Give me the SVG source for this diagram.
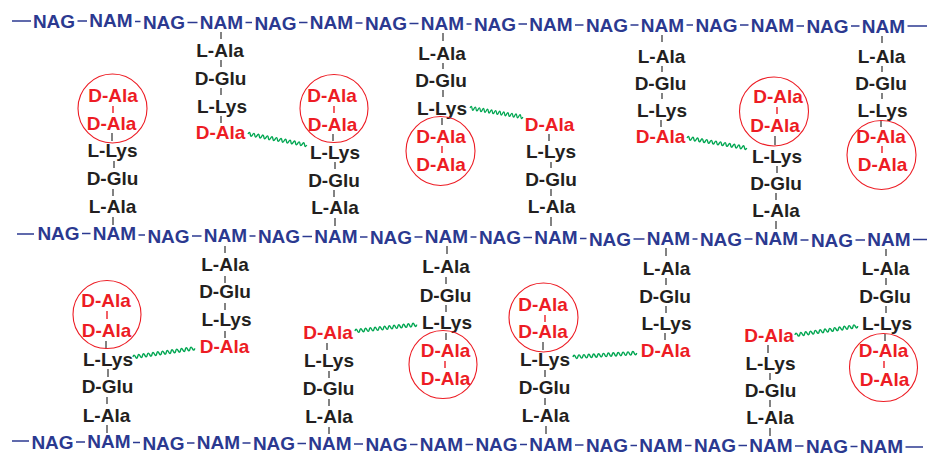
<svg xmlns="http://www.w3.org/2000/svg" xmlns:xlink="http://www.w3.org/1999/xlink" width="927" height="458" viewBox="0 0 927 458">
<style>
text{font-family:"Liberation Sans",Arial,sans-serif;font-weight:bold;font-size:19px;text-anchor:middle}
.b{fill:#2b3990}
.k{fill:#231f20}
.r{fill:#ed1c24}
.bb{stroke:#2b3990;stroke-width:1.5;fill:none}
.tk{stroke:#4d4d4d;stroke-width:1.4;fill:none}
.tr{stroke:#ed1c24;stroke-width:1.4;fill:none}
.c{fill:none;stroke:#ed1c24;stroke-width:1.1}
.w{fill:none;stroke:#00a651;stroke-width:1.4}
</style>
<defs>
<path id="wave" d="M0,0 q1.15,-3.4 2.3,0 t2.3,0 t2.3,0 t2.3,0 t2.3,0 t2.3,0 t2.3,0 t2.3,0 t2.3,0 t2.3,0 t2.3,0 t2.3,0 t2.3,0 t2.3,0 t2.3,0 t2.3,0 t2.3,0 t2.3,0 t2.3,0 t2.3,0 t2.3,0 t2.3,0 t2.3,0 t2.3,0 t2.3,0 t2.3,0"/>
</defs>
<rect width="927" height="458" fill="#fff"/>
<g id="connectors">
<g id="backbone-top" class="bb">
<line x1="12" y1="21" x2="31" y2="21"/><line x1="77.5" y1="21" x2="87" y2="21"/><line x1="135" y1="21.5" x2="140.5" y2="21.5"/><line x1="187.5" y1="22.5" x2="197.5" y2="22.5"/><line x1="245.5" y1="22.5" x2="252" y2="22.5"/><line x1="299" y1="22.5" x2="307.5" y2="22.5"/><line x1="355.5" y1="23" x2="362.5" y2="23"/><line x1="409.5" y1="23.5" x2="418.5" y2="23.5"/><line x1="466.5" y1="24" x2="471.5" y2="24"/><line x1="518.5" y1="24" x2="527" y2="24"/><line x1="575" y1="25" x2="583.5" y2="25"/><line x1="630.5" y1="25" x2="638.5" y2="25"/><line x1="686.5" y1="25" x2="693" y2="25"/><line x1="740" y1="25" x2="748.5" y2="25"/><line x1="796.5" y1="26" x2="804" y2="26"/><line x1="851" y1="26" x2="859.5" y2="26"/><line x1="907.5" y1="26" x2="927" y2="26"/>
</g>
<g id="backbone-mid" class="bb">
<line x1="17" y1="234" x2="34" y2="234"/><line x1="82" y1="233.5" x2="90.5" y2="233.5"/><line x1="138.5" y1="235" x2="145" y2="235"/><line x1="192" y1="236" x2="201.5" y2="236"/><line x1="249.5" y1="236" x2="255.5" y2="236"/><line x1="302.5" y1="236.5" x2="312" y2="236.5"/><line x1="360" y1="237" x2="367.5" y2="237"/><line x1="414.5" y1="237" x2="422.5" y2="237"/><line x1="470.5" y1="237" x2="476.5" y2="237"/><line x1="523.5" y1="237.5" x2="532" y2="237.5"/><line x1="580" y1="238.5" x2="586.5" y2="238.5"/><line x1="633.5" y1="239" x2="644.5" y2="239"/><line x1="692.5" y1="239" x2="697.5" y2="239"/><line x1="744.5" y1="239" x2="752.5" y2="239"/><line x1="800.5" y1="240" x2="808.5" y2="240"/><line x1="855.5" y1="240" x2="865" y2="240"/><line x1="913" y1="239.5" x2="927" y2="239.5"/>
</g>
<g id="backbone-bot" class="bb">
<line x1="12" y1="441" x2="29" y2="441"/><line x1="76" y1="442" x2="85" y2="442"/><line x1="133" y1="442.5" x2="140" y2="442.5"/><line x1="187" y1="443" x2="194.5" y2="443"/><line x1="242.5" y1="443" x2="250.5" y2="443"/><line x1="297.5" y1="443.5" x2="306" y2="443.5"/><line x1="354" y1="444" x2="363" y2="444"/><line x1="410" y1="444.5" x2="417.5" y2="444.5"/><line x1="465.5" y1="444.5" x2="473" y2="444.5"/><line x1="520" y1="444.5" x2="527" y2="444.5"/><line x1="575" y1="445" x2="583.5" y2="445"/><line x1="630.5" y1="445.5" x2="637" y2="445.5"/><line x1="685" y1="445.5" x2="691.5" y2="445.5"/><line x1="738.5" y1="445.5" x2="747" y2="445.5"/><line x1="795" y1="446" x2="803.5" y2="446"/><line x1="850.5" y1="446.5" x2="857.5" y2="446.5"/><line x1="905.5" y1="447" x2="923" y2="447"/>
</g>
<g id="ticks" class="tk">
<line x1="221" y1="32" x2="221" y2="39"/><line x1="221" y1="60" x2="221" y2="67"/><line x1="221" y1="88" x2="221" y2="95"/><line x1="221" y1="116" x2="221" y2="123"/>
<line x1="443" y1="33" x2="443" y2="41"/><line x1="443" y1="63" x2="443" y2="69"/><line x1="443" y1="90" x2="443" y2="97"/><line x1="442" y1="118" x2="442" y2="125"/>
<line x1="662" y1="35" x2="662" y2="42"/><line x1="662" y1="66" x2="662" y2="72"/><line x1="662" y1="93" x2="662" y2="99"/><line x1="661" y1="120" x2="661" y2="127"/>
<line x1="882" y1="36" x2="882" y2="43"/><line x1="882" y1="66" x2="882" y2="72"/><line x1="882" y1="93" x2="882" y2="99"/><line x1="881" y1="120" x2="881" y2="127"/>
<line x1="112" y1="133" x2="112" y2="141"/><line x1="114" y1="161" x2="114" y2="168"/><line x1="113" y1="189" x2="113" y2="196"/><line x1="113" y1="217" x2="113" y2="225"/>
<line x1="333" y1="134" x2="333" y2="141"/><line x1="335" y1="162" x2="335" y2="169"/><line x1="334" y1="190" x2="334" y2="197"/><line x1="335" y1="218" x2="335" y2="226"/>
<line x1="549" y1="134" x2="549" y2="141"/><line x1="551" y1="162" x2="551" y2="168"/><line x1="551" y1="189" x2="551" y2="196"/><line x1="551" y1="217" x2="551" y2="226"/>
<line x1="775" y1="136" x2="775" y2="145"/><line x1="777" y1="166" x2="777" y2="173"/><line x1="776" y1="193" x2="776" y2="200"/><line x1="776" y1="221" x2="776" y2="229"/>
<line x1="225" y1="246" x2="225" y2="253"/><line x1="225" y1="276" x2="225" y2="283"/><line x1="225" y1="303" x2="225" y2="310"/><line x1="225" y1="331" x2="225" y2="338"/>
<line x1="447" y1="246" x2="447" y2="254"/><line x1="446" y1="277" x2="446" y2="284"/><line x1="446" y1="305" x2="446" y2="312"/><line x1="446" y1="333" x2="446" y2="340"/>
<line x1="666" y1="248" x2="666" y2="256"/><line x1="666" y1="278" x2="666" y2="285"/><line x1="666" y1="306" x2="666" y2="313"/><line x1="665" y1="333" x2="665" y2="340"/>
<line x1="886" y1="249" x2="886" y2="256"/><line x1="886" y1="278" x2="886" y2="285"/><line x1="886" y1="306" x2="886" y2="313"/><line x1="885" y1="334" x2="885" y2="341"/>
<line x1="106" y1="341" x2="106" y2="349"/><line x1="108" y1="369" x2="108" y2="377"/><line x1="107" y1="397" x2="107" y2="404"/><line x1="107" y1="425" x2="107" y2="433"/>
<line x1="327" y1="343" x2="327" y2="350"/><line x1="329" y1="371" x2="329" y2="378"/><line x1="329" y1="399" x2="329" y2="406"/><line x1="329" y1="427" x2="329" y2="434"/>
<line x1="543" y1="342" x2="543" y2="350"/><line x1="545" y1="370" x2="545" y2="377"/><line x1="545" y1="398" x2="545" y2="405"/><line x1="546" y1="426" x2="546" y2="434"/>
<line x1="768" y1="345" x2="768" y2="353"/><line x1="770" y1="373" x2="770" y2="380"/><line x1="770" y1="400" x2="770" y2="407"/><line x1="770" y1="428" x2="770" y2="436"/>
</g>
<g id="ticks-red" class="tr">
<line x1="442" y1="146" x2="442" y2="153"/>
<line x1="882" y1="146" x2="882" y2="153"/>
<line x1="113" y1="106" x2="113" y2="113"/>
<line x1="334" y1="106" x2="334" y2="113"/>
<line x1="777" y1="107" x2="777" y2="114"/>
<line x1="445" y1="361" x2="445" y2="368"/>
<line x1="884" y1="361" x2="884" y2="368"/>
<line x1="107" y1="311" x2="107" y2="319"/>
<line x1="545" y1="315" x2="545" y2="322"/>
</g>
<g id="crosslinks" class="w">
<use xlink:href="#wave" href="#wave" transform="translate(248,134) rotate(10.6)"/>
<use xlink:href="#wave" href="#wave" transform="translate(470,108) rotate(9.6) scale(0.897,1)"/>
<use xlink:href="#wave" href="#wave" transform="translate(687,138) rotate(9.5) scale(1.013,1)"/>
<use xlink:href="#wave" href="#wave" transform="translate(133,357) rotate(-8) scale(1.043,1)"/>
<use xlink:href="#wave" href="#wave" transform="translate(355,331) rotate(-5.9) scale(1.038,1)"/>
<use xlink:href="#wave" href="#wave" transform="translate(573,357) rotate(-3.6) scale(1.067,1)"/>
<use xlink:href="#wave" href="#wave" transform="translate(795,335) rotate(-8.1) scale(1.06,1)"/>
</g>
</g>
<g id="row-top" class="b">
<text x="54" y="27.5">NAG</text><text x="111" y="27">NAM</text><text x="164" y="29">NAG</text><text x="221.5" y="29">NAM</text><text x="275.5" y="29.5">NAG</text><text x="331.5" y="28.5">NAM</text><text x="386" y="30">NAG</text><text x="442.5" y="30">NAM</text><text x="495" y="30.5">NAG</text><text x="551" y="30.5">NAM</text><text x="607" y="31.5">NAG</text><text x="662.5" y="31.5">NAM</text><text x="716.5" y="31.5">NAG</text><text x="772.5" y="31.5">NAM</text><text x="827.5" y="32.5">NAG</text><text x="883.5" y="32.5">NAM</text>
</g>
<g id="row-mid" class="b">
<text x="58.5" y="240">NAG</text><text x="114.5" y="240">NAM</text><text x="168.5" y="243">NAG</text><text x="225.5" y="242">NAM</text><text x="279" y="243">NAG</text><text x="336" y="243">NAM</text><text x="391" y="244">NAG</text><text x="446.5" y="243">NAM</text><text x="500" y="244">NAG</text><text x="556" y="244">NAM</text><text x="610" y="246">NAG</text><text x="668.5" y="245">NAM</text><text x="721" y="246">NAG</text><text x="776.5" y="245">NAM</text><text x="832" y="247">NAG</text><text x="889" y="246">NAM</text>
</g>
<g id="row-bot" class="b">
<text x="52.5" y="449">NAG</text><text x="109" y="448">NAM</text><text x="163.5" y="450">NAG</text><text x="218.5" y="449">NAM</text><text x="274" y="450">NAG</text><text x="330" y="450">NAM</text><text x="386.5" y="451">NAG</text><text x="441.5" y="451">NAM</text><text x="496.5" y="451">NAG</text><text x="551" y="451">NAM</text><text x="607" y="452">NAG</text><text x="661" y="452">NAM</text><text x="715" y="452">NAG</text><text x="771" y="452">NAM</text><text x="827" y="453">NAG</text><text x="881.5" y="453">NAM</text>
</g>
<g id="T1"><text class="k" x="220" y="57">L-Ala</text><text class="k" x="220.5" y="85">D-Glu</text><text class="k" x="222" y="113">L-Lys</text><text class="r" x="220.5" y="139">D-Ala</text></g>
<g id="T2"><text class="k" x="442" y="60">L-Ala</text><text class="k" x="441" y="87">D-Glu</text><text class="k" x="442" y="115">L-Lys</text><circle class="c" cx="440.5" cy="151" r="34.5"/><text class="r" x="441" y="143">D-Ala</text><text class="r" x="441" y="171">D-Ala</text></g>
<g id="T3"><text class="k" x="661.5" y="63">L-Ala</text><text class="k" x="660.5" y="90">D-Glu</text><text class="k" x="662" y="117">L-Lys</text><text class="r" x="660.5" y="143">D-Ala</text></g>
<g id="T4"><text class="k" x="881.5" y="63">L-Ala</text><text class="k" x="881" y="90">D-Glu</text><text class="k" x="882.5" y="117">L-Lys</text><circle class="c" cx="881.5" cy="155" r="34.5"/><text class="r" x="881" y="143">D-Ala</text><text class="r" x="882.5" y="171">D-Ala</text></g>
<g id="B1"><circle class="c" cx="112.5" cy="108.5" r="34.5"/><text class="r" x="113" y="102">D-Ala</text><text class="r" x="111.5" y="130">D-Ala</text><text class="k" x="112.5" y="157">L-Lys</text><text class="k" x="112.5" y="185">D-Glu</text><text class="k" x="112.5" y="213">L-Ala</text></g>
<g id="B2"><circle class="c" cx="334" cy="108.5" r="34"/><text class="r" x="332" y="102">D-Ala</text><text class="r" x="332.5" y="131">D-Ala</text><text class="k" x="335" y="159">L-Lys</text><text class="k" x="334" y="187">D-Glu</text><text class="k" x="335" y="214">L-Ala</text></g>
<g id="B3"><text class="r" x="549.5" y="131">D-Ala</text><text class="k" x="551" y="158">L-Lys</text><text class="k" x="551" y="186">D-Glu</text><text class="k" x="551.5" y="213">L-Ala</text></g>
<g id="B4"><circle class="c" cx="774" cy="111.5" r="34.5"/><text class="r" x="778" y="103">D-Ala</text><text class="r" x="775" y="132">D-Ala</text><text class="k" x="777" y="163">L-Lys</text><text class="k" x="776" y="190">D-Glu</text><text class="k" x="776" y="217">L-Ala</text></g>
<g id="M1"><text class="k" x="225" y="271">L-Ala</text><text class="k" x="225" y="298">D-Glu</text><text class="k" x="226.5" y="326">L-Lys</text><text class="r" x="224.5" y="353">D-Ala</text></g>
<g id="M2"><text class="k" x="446" y="273">L-Ala</text><text class="k" x="445.5" y="302">D-Glu</text><text class="k" x="447" y="329">L-Lys</text><circle class="c" cx="443" cy="364.5" r="34"/><text class="r" x="445.5" y="357">D-Ala</text><text class="r" x="445.5" y="385">D-Ala</text></g>
<g id="M3"><text class="k" x="666.5" y="275">L-Ala</text><text class="k" x="665" y="303">D-Glu</text><text class="k" x="666.5" y="330">L-Lys</text><text class="r" x="665.5" y="357">D-Ala</text></g>
<g id="M4"><text class="k" x="885.5" y="275">L-Ala</text><text class="k" x="885" y="303">D-Glu</text><text class="k" x="887" y="330">L-Lys</text><circle class="c" cx="883.5" cy="367.5" r="34"/><text class="r" x="883.5" y="357">D-Ala</text><text class="r" x="884.5" y="386">D-Ala</text></g>
<g id="U1"><circle class="c" cx="107" cy="314.5" r="34"/><text class="r" x="106" y="307">D-Ala</text><text class="r" x="106.5" y="337">D-Ala</text><text class="k" x="108" y="366">L-Lys</text><text class="k" x="107.5" y="393">D-Glu</text><text class="k" x="106.5" y="422">L-Ala</text></g>
<g id="U2"><text class="r" x="328" y="339">D-Ala</text><text class="k" x="329" y="367">L-Lys</text><text class="k" x="328.5" y="395">D-Glu</text><text class="k" x="329" y="423">L-Ala</text></g>
<g id="U3"><circle class="c" cx="543.5" cy="317.5" r="34.5"/><text class="r" x="543" y="311">D-Ala</text><text class="r" x="543" y="338">D-Ala</text><text class="k" x="545" y="366">L-Lys</text><text class="k" x="544.5" y="394">D-Glu</text><text class="k" x="545.5" y="422">L-Ala</text></g>
<g id="U4"><text class="r" x="769" y="342">D-Ala</text><text class="k" x="770.5" y="370">L-Lys</text><text class="k" x="770.5" y="397">D-Glu</text><text class="k" x="770" y="424">L-Ala</text></g>
</svg>
